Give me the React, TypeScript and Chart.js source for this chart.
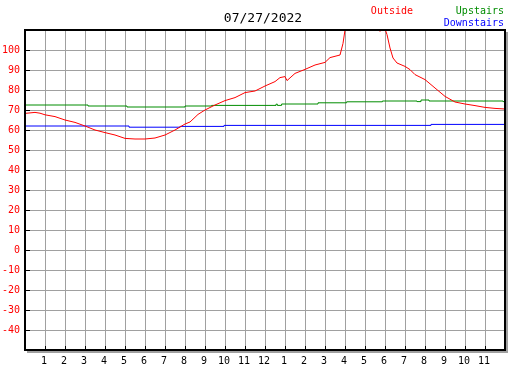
import React, { useEffect, useRef } from "react";
import { Chart, registerables } from "chart.js";

Chart.register(...registerables);

const titleText = "07/27/2022";
const seriesNames = ["Outside", "Upstairs", "Downstairs"];
const seriesColors = ["#ff0000", "#008c00", "#0000ff"];

const hourLabels = ["", "1", "2", "3", "4", "5", "6", "7", "8", "9", "10", "11", "12", "1", "2", "3", "4", "5", "6", "7", "8", "9", "10", "11", ""];

const outsideHours = [0, 0.5, 0.75, 1, 1.5, 2, 2.5, 3, 3.5, 4, 4.5, 5, 5.5, 6, 6.5, 7, 7.5, 8, 8.25, 8.65, 9, 9.5, 10, 10.5, 11, 11.5, 12, 12.5, 12.75, 13, 13.1, 13.5, 14, 14.5, 15, 15.25, 15.75, 15.9, 16, 16.2, 17, 17.7, 17.75, 17.8, 17.95, 18.1, 18.25, 18.4, 18.6, 19, 19.25, 19.5, 20, 20.5, 21, 21.5, 22, 22.5, 23, 23.5, 24];
const outsideTemps = [68.3, 68.8, 68.4, 67.6, 66.7, 65, 63.8, 62, 60, 58.7, 57.5, 55.8, 55.5, 55.5, 56, 57.5, 60, 63, 64, 67.8, 70, 72.5, 74.7, 76.2, 78.7, 79.5, 82, 84.2, 86.2, 86.7, 84.7, 88.3, 90.3, 92.5, 93.8, 96.2, 97.5, 103.3, 110, 118, 125, 114, 109.3, 112, 112, 107.7, 101, 96, 93.5, 91.8, 90.2, 87.7, 85.2, 81, 76.8, 74, 73, 72.2, 71.3, 70.8, 70.5];

const upstairsHours = [0, 3.15, 5.1, 8.0, 9.33, 12.55, 12.62, 12.83, 14.65, 16.08, 17.87, 19.6, 19.8, 20.2, 23.9, 24];
const upstairsTemps = [72.5, 72, 71.5, 72, 72.3, 72.9, 72.3, 73, 73.6, 74.1, 74.5, 74.2, 75, 74.5, 74.2, 74.2];

const downstairsHours = [0, 5.2, 7.75, 9.95, 20.3, 24];
const downstairsTemps = [62, 61.4, 61.8, 62.3, 62.8, 62.8];

const yMin = -50;
const yMax = 110;

function toPoints(xs: number[], ys: number[]) {
  return xs.map((x, i) => ({ x, y: ys[i] }));
}

const framePlugin = {
  id: "frameAndText",
  afterDraw(chart: any) {
    const ctx = chart.ctx;
    const area = chart.chartArea;
    const xs = chart.scales.x;
    const ys = chart.scales.y;
    ctx.save();
    // tick marks
    ctx.fillStyle = "#000000";
    for (let v = -40; v <= 100; v += 10) {
      const py = Math.round(ys.getPixelForValue(v));
      ctx.fillRect(area.left, py, 5, 1);
    }
    for (let h = 1; h <= 23; h++) {
      const px = Math.round(xs.getPixelForValue(h));
      ctx.fillRect(px, area.bottom - 4, 1, 4);
    }
    // shadow
    ctx.fillStyle = "#a0a0a0";
    ctx.fillRect(area.right + 1, area.top + 2, 2, area.bottom - area.top + 1);
    ctx.fillRect(area.left + 2, area.bottom + 1, area.right - area.left + 1, 2);
    // frame
    ctx.fillStyle = "#000000";
    ctx.fillRect(area.left - 1, area.top - 1, area.right - area.left + 2, 2);
    ctx.fillRect(area.left - 1, area.top - 1, 2, area.bottom - area.top + 2);
    ctx.fillRect(area.left - 1, area.bottom - 1, area.right - area.left + 2, 2);
    ctx.fillRect(area.right - 1, area.top - 1, 2, area.bottom - area.top + 2);
    // title
    ctx.textBaseline = "middle";
    ctx.font = '13px "DejaVu Sans Mono"';
    ctx.textAlign = "center";
    ctx.fillStyle = "#000000";
    ctx.fillText(titleText, 263, 19);
    // legend
    ctx.font = '10px "DejaVu Sans Mono"';
    ctx.textAlign = "right";
    ctx.fillStyle = seriesColors[0];
    ctx.fillText(seriesNames[0], 413, 11);
    ctx.fillStyle = seriesColors[1];
    ctx.fillText(seriesNames[1], 504, 11);
    ctx.fillStyle = seriesColors[2];
    ctx.fillText(seriesNames[2], 504, 23);
    ctx.restore();
  },
};

export default function App() {
  const ref = useRef<HTMLCanvasElement | null>(null);
  useEffect(() => {
    if (!ref.current) return;
    const chart = new Chart(ref.current, {
      type: "line",
      data: {
        datasets: [
          {
            label: seriesNames[0],
            data: toPoints(outsideHours, outsideTemps),
            borderColor: seriesColors[0],
            borderWidth: 1,
            pointRadius: 0,
            tension: 0,
          },
          {
            label: seriesNames[1],
            data: toPoints(upstairsHours, upstairsTemps),
            borderColor: seriesColors[1],
            borderWidth: 1,
            pointRadius: 0,
            stepped: true,
          },
          {
            label: seriesNames[2],
            data: toPoints(downstairsHours, downstairsTemps),
            borderColor: seriesColors[2],
            borderWidth: 1,
            pointRadius: 0,
            stepped: true,
          },
        ],
      },
      options: {
        responsive: false,
        animation: false,
        devicePixelRatio: 1,
        layout: { padding: { top: 30, right: 22, left: 0, bottom: 0 } },
        plugins: { legend: { display: false }, title: { display: false }, tooltip: { enabled: false } },
        scales: {
          x: {
            type: "linear",
            min: 0,
            max: 24,
            afterFit: (s: any) => {
              s.height = 20;
            },
            border: { display: false },
            grid: { color: "#a0a0a0", lineWidth: 1, drawTicks: false },
            ticks: {
              stepSize: 1,
              autoSkip: false,
              maxRotation: 0,
              padding: 5,
              labelOffset: -1,
              color: "#000000",
              font: { family: "DejaVu Sans Mono", size: 10 },
              callback: (v: any) => hourLabels[v] ?? "",
            },
          },
          y: {
            type: "linear",
            min: yMin,
            max: yMax,
            afterFit: (s: any) => {
              s.width = 25;
            },
            border: { display: false },
            grid: { color: "#a0a0a0", lineWidth: 1, drawTicks: false },
            ticks: {
              stepSize: 10,
              padding: 5,
              color: "#ff0000",
              font: { family: "DejaVu Sans Mono", size: 10 },
              callback: (v: any) => (v === yMin || v === yMax ? "" : String(v)),
            },
          },
        },
      },
      plugins: [framePlugin],
    });
    return () => chart.destroy();
  }, []);
  return (
    <div style={{ position: "absolute", left: 0, top: 0, width: 527, height: 370, background: "#ffffff" }}>
      <canvas ref={ref} width={527} height={370} style={{ width: 527, height: 370, display: "block" }} />
    </div>
  );
}
